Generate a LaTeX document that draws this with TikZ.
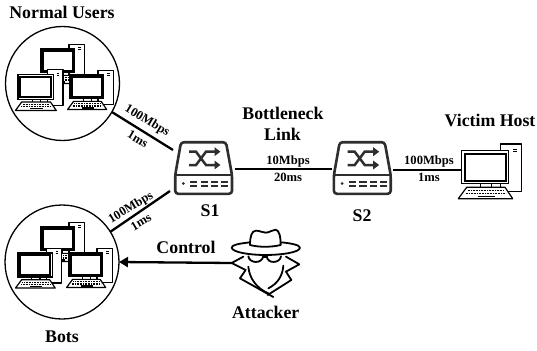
\documentclass[tikz,border=0pt]{standalone}
\usepackage{fontspec}
\setmainfont{Liberation Serif}
\usetikzlibrary{arrows.meta}
\definecolor{swc}{HTML}{2E2E2E}
\tikzset{
  big/.style={font=\fontsize{17.8}{20}\selectfont\bfseries,inner sep=0pt},
  small/.style={font=\fontsize{12.6}{14}\selectfont\bfseries,inner sep=0pt},
  link/.style={line width=2.3pt,black},
  holder/.style={circle,draw,line width=1.3pt,minimum size=114pt,inner sep=0pt,outer sep=0pt},
  devbox/.style={rectangle,inner sep=0pt,outer sep=0pt},
  pc/.pic={
    \draw[line width=1.2pt,fill=white,line join=round] (39,-6.7) rectangle (60,41);
    \draw[line width=1pt] (51.6,-1.4) -- (55,-1.4) (51.6,1) -- (55,1);
    \draw[line width=1.2pt,fill=white] (19,33) rectangle (30,38);
    \draw[line width=1.2pt,fill=white] (0,0) rectangle (47,33);
    \draw[line width=2pt,fill=white] (3,3) rectangle (44,30);
    \draw[line width=1.2pt,fill=white,line join=round] (5,36.6) -- (43.3,36.6) -- (51,48) -- (-3.4,48) -- cycle;
    \draw[line width=1.2pt,dash pattern=on .8pt off .8pt] (6,40) -- (42,40);
    \draw[line width=1.2pt,dash pattern=on .8pt off .8pt] (4,43) -- (44,43);
    \draw[line width=1.2pt] (16,45.8) -- (33,45.8);
  },
  swpic/.pic={
    \draw[swc,line width=2.6pt,rounded corners=3pt,fill=white] (7,1.2) -- (52,1.2) -- (58,34) -- (58,52.8) -- (1.2,52.8) -- (1.2,34) -- cycle;
    \draw[swc,line width=2.6pt] (1.2,34) -- (58,34);
    \draw[swc,line width=2.5pt,-{Triangle[length=6pt,width=8.5pt]}] (15,10.7) -- (22,10.7) -- (32,24) -- (46.5,24);
    \draw[swc,line width=2.5pt,-{Triangle[length=6pt,width=8.5pt]}] (15,24) -- (22,24) -- (32,10.7) -- (46.5,10.7);
    \fill[swc] (9.3,42.5) circle (1.5pt);
    \foreach \q in {16,26.7,37,47} {
      \fill[swc] (\q,39.8) rectangle ++(7.3,2.4);
      \fill[swc] (\q,43.8) rectangle ++(7.3,2.4);
    }
  }
}
\begin{document}
\begin{tikzpicture}[x=1pt,y=-1pt]
\useasboundingbox (0,0) rectangle (537,350);
% holders and devices
\node[holder] (users) at (62.5,83.5) {};
\node[holder] (bots) at (62,262) {};
\node[devbox,minimum width=59pt,minimum height=54pt] (s1) at (203.5,168) {};
\node[devbox,minimum width=59pt,minimum height=54pt] (s2) at (362.2,168) {};
\node[devbox,minimum width=47pt,minimum height=33pt] (victim) at (485.2,167) {};
\node[devbox,minimum width=68pt,minimum height=70pt] (attacker) at (265.7,263) {};
% computers
\pic[scale=.72] at (41,49) {pc};
\pic[scale=.75] at (18,74.5) {pc};
\pic[scale=.72] at (70,75) {pc};
\pic[scale=.72] at (41,227) {pc};
\pic[scale=.73] at (18,253) {pc};
\pic[scale=.72] at (69,253) {pc};
\pic at (461.7,150.7) {pc};
\pic at (174,141) {swpic};
\pic at (332.7,141) {swpic};
% attacker figure
\begin{scope}[shift={(130,215)},x=.3333pt,y=-.3333pt,line width=1.8pt,line join=round,line cap=round]
  \draw (360,82) .. controls (325,86) and (305,90) .. (305,98) .. controls (307,112) and (360,120) .. (405,120) .. controls (455,120) and (510,112) .. (510,98) .. controls (510,90) and (480,84) .. (452,82);
  \draw (360,90) .. controls (360,65) and (365,47) .. (378,47) .. controls (392,47) and (395,53) .. (407,53) .. controls (420,53) and (425,44) .. (437,44) .. controls (448,46) and (452,65) .. (452,90) .. controls (425,97) and (385,97) .. (360,90) -- cycle;
  \draw (355,124) .. controls (358,145) and (395,148) .. (400,124);
  \draw (410,124) .. controls (413,148) and (450,145) .. (453,124);
  \draw (398,127) -- (412,127);
  \draw (340,125) -- (305,144) -- (347,165) -- (330,190) -- (430,246);
  \draw (468,125) -- (508,148) -- (468,170) -- (484,195) -- (413,240);
  \draw (355,155) .. controls (358,190) and (380,220) .. (415,235);
  \draw (460,152) .. controls (458,180) and (445,205) .. (415,220);
\end{scope}
% connectors
\draw[link] (users.-30) -- ([shift={(-1pt,-9pt)}]s1.north west);
\draw[link] (bots.32) -- ([shift={(-4pt,4pt)}]s1.south west);
\draw[link] ([shift={(1.5pt,-1.3pt)}]s1.east) -- ([shift={(-.5pt,-1.3pt)}]s2.west);
\draw[link] ([shift={(1.5pt,-2pt)}]s2.east) -- ([yshift=-3pt]victim.west);
\draw[link,-{Triangle[length=9pt,width=10pt]}] (attacker.west) -- (bots.east);
% texts
\node[big] (tusers) at (62,12) {Normal Users};
\node[big] (tbots) at (62,337) {Bots};
\node[big] (tneck) at (283,113) {Bottleneck};
\node[big] (tlink) at (282.5,134) {Link};
\node[big] (ts1) at (210,211) {S1};
\node[big] (ts2) at (362,216) {S2};
\node[big] (tvictim) at (490,120) {Victim Host};
\node[big] (tcontrol) at (186,247) {Control};
\node[big] (tattacker) at (265.7,312.7) {Attacker};
\node[small] (l1) at (288,161.2) {10Mbps};
\node[small] (l2) at (288,177.5) {20ms};
\node[small] (l3) at (429,161.5) {100Mbps};
\node[small] (l4) at (429,177.5) {1ms};
\node[small,rotate=-31] (l5) at (147,121) {100Mbps};
\node[small,rotate=-31] (l6) at (138,139) {1ms};
\node[small,rotate=31] (l7) at (131,208) {100Mbps};
\node[small,rotate=31] (l8) at (141,222) {1ms};
\end{tikzpicture}
\end{document}
